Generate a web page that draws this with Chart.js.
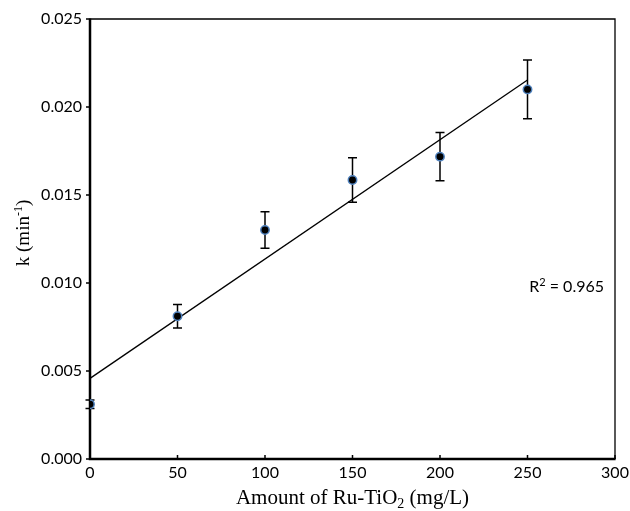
<!DOCTYPE html>
<html>
<head>
<meta charset="utf-8">
<script src="https://cdn.jsdelivr.net/npm/chart.js@4"></script>
<style>
  html, body { margin: 0; padding: 0; background: #fff; }
  #wrap { width: 630px; height: 511px; }
</style>
</head>
<body>
<div id="wrap"><canvas id="rate-chart"></canvas></div>
<script>
// catalyst dose (mg/L) and rate constant k (min^-1)
const doses = [0, 50, 100, 150, 200, 250];
const kValues = [0.00311, 0.00811, 0.01301, 0.01585, 0.01718, 0.021];
const kErrors = [0.00024, 0.00067, 0.00104, 0.00126, 0.00137, 0.00167];

// linear trendline as drawn in the figure
const trendX = [0, 250];
const trendK = [0.00458, 0.02153];

const xTicks = [0, 50, 100, 150, 200, 250, 300];
const yTicks = [0, 0.005, 0.01, 0.015, 0.02, 0.025];
const r2Value = '0.965';

const tickFont = { family: 'Lato', size: 16 };
const serif = 'Liberation Serif';

// draws [text, font, dy] pieces one after another starting at x0
function drawRuns(ctx, runs, x0, y0) {
  let cx = x0;
  runs.forEach(([t, f, dy]) => {
    ctx.font = f;
    ctx.fillText(t, cx, y0 + dy);
    cx += ctx.measureText(t).width;
  });
}

function runsWidth(ctx, runs) {
  let w = 0;
  runs.forEach(([t, f]) => { ctx.font = f; w += ctx.measureText(t).width; });
  return w;
}

const errorBars = {
  id: 'errorBars',
  beforeDatasetsDraw(chart) {
    const { ctx, scales: { x, y } } = chart;
    ctx.save();
    ctx.strokeStyle = '#000';
    ctx.lineWidth = 1.5;
    doses.forEach((d, i) => {
      const px = x.getPixelForValue(d);
      const top = y.getPixelForValue(kValues[i] + kErrors[i]);
      const bot = y.getPixelForValue(kValues[i] - kErrors[i]);
      ctx.beginPath();
      ctx.moveTo(px, top);
      ctx.lineTo(px, bot);
      ctx.moveTo(px - 4.5, top);
      ctx.lineTo(px + 4.5, top);
      ctx.moveTo(px - 4.5, bot);
      ctx.lineTo(px + 4.5, bot);
      ctx.stroke();
    });
    ctx.restore();
  },
};

const frame = {
  id: 'frame',
  beforeDatasetsDraw(chart) {
    const { ctx, chartArea: a, scales: { x, y } } = chart;
    ctx.save();
    ctx.strokeStyle = '#000';
    // top and right, thin
    ctx.lineWidth = 1.3;
    ctx.beginPath();
    ctx.moveTo(a.left, a.top);
    ctx.lineTo(a.right, a.top);
    ctx.lineTo(a.right, a.bottom);
    ctx.stroke();
    // left and bottom axes, heavier
    ctx.lineWidth = 2.5;
    ctx.beginPath();
    ctx.moveTo(a.left, a.top - 0.6);
    ctx.lineTo(a.left, a.bottom);
    ctx.lineTo(a.right + 0.6, a.bottom);
    ctx.stroke();
    // tick marks: y outside, x inside
    ctx.lineWidth = 1.5;
    ctx.beginPath();
    yTicks.forEach((v) => {
      const py = y.getPixelForValue(v);
      ctx.moveTo(a.left - 4, py);
      ctx.lineTo(a.left, py);
    });
    xTicks.forEach((v) => {
      const px = x.getPixelForValue(v);
      ctx.moveTo(px, a.bottom);
      ctx.lineTo(px, a.bottom - 4);
    });
    ctx.stroke();
    ctx.restore();
  },
  afterDraw(chart) {
    const { ctx, chartArea: a } = chart;
    ctx.save();
    ctx.fillStyle = '#000';
    ctx.textBaseline = 'alphabetic';
    ctx.textAlign = 'left';

    // x axis title with subscript
    const main = `21px "${serif}"`;
    const sub = `14px "${serif}"`;
    const xRuns = [['Amount of Ru-TiO', main, 0], ['2', sub, 4], [' (mg/L)', main, 0]];
    drawRuns(ctx, xRuns, (a.left + a.right) / 2 - runsWidth(ctx, xRuns) / 2, 504);

    // y axis title with superscript, rotated
    const yRuns = [['k (min', `19px "${serif}"`, 0], ['-1', `12px "${serif}"`, -7], [')', `19px "${serif}"`, 0]];
    const yw = runsWidth(ctx, yRuns);
    ctx.translate(29, 233);
    ctx.rotate(-Math.PI / 2);
    drawRuns(ctx, yRuns, -yw / 2, 0);
    ctx.setTransform(1, 0, 0, 1, 0, 0);

    // R squared label
    const lato = `${tickFont.size}px ${tickFont.family}`;
    const rRuns = [['R', lato, 0], ['2', `11px ${tickFont.family}`, -6], [' = ' + r2Value, lato, 0]];
    drawRuns(ctx, rRuns, 604 - runsWidth(ctx, rRuns), 292);
    ctx.restore();
  },
};

new Chart(document.getElementById('rate-chart'), {
  type: 'scatter',
  data: {
    datasets: [
      {
        label: 'k',
        data: doses.map((d, i) => ({ x: d, y: kValues[i] })),
        backgroundColor: '#000',
        borderColor: '#4f81bd',
        borderWidth: 1.5,
        pointRadius: 4.2,
        order: 0,
      },
      {
        label: 'Linear fit',
        type: 'line',
        data: trendX.map((d, i) => ({ x: d, y: trendK[i] })),
        borderColor: '#000',
        borderWidth: 1.3,
        pointRadius: 0,
        fill: false,
        order: 1,
      },
    ],
  },
  plugins: [frame, errorBars],
  options: {
    responsive: true,
    maintainAspectRatio: false,
    animation: false,
    layout: { padding: { top: 19, right: 15, left: 0, bottom: 0 } },
    plugins: {
      legend: { display: false },
      tooltip: { enabled: false },
    },
    scales: {
      x: {
        type: 'linear',
        min: 0,
        max: 300,
        afterFit: (scale) => {
          scale.height = 52;
          scale.paddingRight = 0;
          scale.paddingLeft = 0;
        },
        afterBuildTicks: (scale) => { scale.ticks = xTicks.map((v) => ({ value: v })); },
        grid: { display: false, drawTicks: false },
        border: { display: false },
        ticks: { font: tickFont, color: '#000', padding: 4, maxRotation: 0 },
      },
      y: {
        type: 'linear',
        min: 0,
        max: 0.025,
        afterFit: (scale) => {
          scale.width = 90;
          scale.paddingTop = 0;
          scale.paddingBottom = 0;
        },
        afterBuildTicks: (scale) => { scale.ticks = yTicks.map((v) => ({ value: v })); },
        grid: { display: false, drawTicks: false },
        border: { display: false },
        ticks: {
          font: tickFont,
          color: '#000',
          padding: 8,
          callback: (v) => v.toFixed(3),
        },
      },
    },
  },
});
</script>
</body>
</html>
